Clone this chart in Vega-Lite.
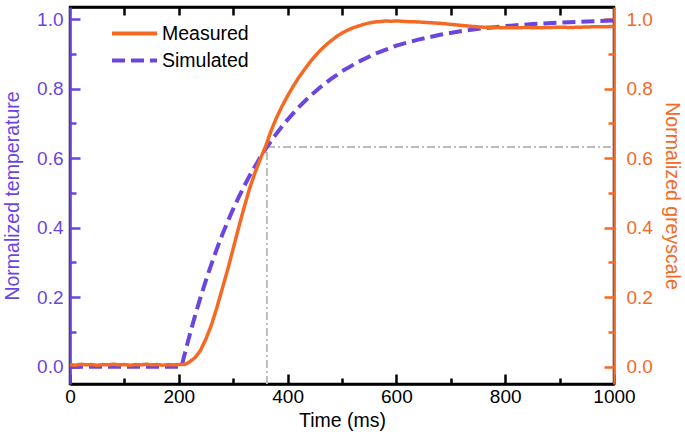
{
  "$schema": "https://vega.github.io/schema/vega-lite/v6.json",
  "width": 544,
  "height": 377,
  "autosize": "none",
  "padding": {"left": 70, "top": 7, "right": 71, "bottom": 57},
  "background": "white",
  "config": {
    "font": "Liberation Sans",
    "view": {"stroke": "black", "strokeWidth": 2.5},
    "axis": {"grid": false, "labelFont": "Liberation Sans", "titleFont": "Liberation Sans", "titleFontWeight": "normal", "labelFontSize": 19, "titleFontSize": 19.5}
  },
  "datasets": {
    "meas": [
      {"t": 0, "v": 0.006, "series": "Measured"}, {"t": 10, "v": 0.004, "series": "Measured"}, {"t": 20, "v": 0.007, "series": "Measured"},
      {"t": 30, "v": 0.005, "series": "Measured"}, {"t": 40, "v": 0.006, "series": "Measured"}, {"t": 50, "v": 0.004, "series": "Measured"},
      {"t": 60, "v": 0.006, "series": "Measured"}, {"t": 70, "v": 0.005, "series": "Measured"}, {"t": 80, "v": 0.007, "series": "Measured"},
      {"t": 90, "v": 0.005, "series": "Measured"}, {"t": 100, "v": 0.006, "series": "Measured"}, {"t": 110, "v": 0.004, "series": "Measured"},
      {"t": 120, "v": 0.006, "series": "Measured"}, {"t": 130, "v": 0.005, "series": "Measured"}, {"t": 140, "v": 0.007, "series": "Measured"},
      {"t": 150, "v": 0.005, "series": "Measured"}, {"t": 160, "v": 0.006, "series": "Measured"}, {"t": 170, "v": 0.004, "series": "Measured"},
      {"t": 180, "v": 0.006, "series": "Measured"}, {"t": 190, "v": 0.005, "series": "Measured"}, {"t": 200, "v": 0.006, "series": "Measured"},
      {"t": 210, "v": 0.006, "series": "Measured"}, {"t": 215, "v": 0.009, "series": "Measured"}, {"t": 220, "v": 0.014, "series": "Measured"},
      {"t": 230, "v": 0.026, "series": "Measured"}, {"t": 240, "v": 0.047, "series": "Measured"}, {"t": 250, "v": 0.08, "series": "Measured"},
      {"t": 260, "v": 0.12, "series": "Measured"}, {"t": 270, "v": 0.17, "series": "Measured"}, {"t": 280, "v": 0.225, "series": "Measured"},
      {"t": 290, "v": 0.28, "series": "Measured"}, {"t": 300, "v": 0.34, "series": "Measured"}, {"t": 310, "v": 0.4, "series": "Measured"},
      {"t": 320, "v": 0.458, "series": "Measured"}, {"t": 330, "v": 0.512, "series": "Measured"}, {"t": 340, "v": 0.558, "series": "Measured"},
      {"t": 350, "v": 0.598, "series": "Measured"}, {"t": 360, "v": 0.636, "series": "Measured"}, {"t": 370, "v": 0.68, "series": "Measured"},
      {"t": 380, "v": 0.718, "series": "Measured"}, {"t": 390, "v": 0.75, "series": "Measured"}, {"t": 400, "v": 0.779, "series": "Measured"},
      {"t": 410, "v": 0.806, "series": "Measured"}, {"t": 420, "v": 0.831, "series": "Measured"}, {"t": 430, "v": 0.853, "series": "Measured"},
      {"t": 440, "v": 0.874, "series": "Measured"}, {"t": 450, "v": 0.893, "series": "Measured"}, {"t": 460, "v": 0.91, "series": "Measured"},
      {"t": 470, "v": 0.925, "series": "Measured"}, {"t": 480, "v": 0.938, "series": "Measured"}, {"t": 490, "v": 0.95, "series": "Measured"},
      {"t": 500, "v": 0.96, "series": "Measured"}, {"t": 510, "v": 0.968, "series": "Measured"}, {"t": 520, "v": 0.975, "series": "Measured"},
      {"t": 530, "v": 0.98, "series": "Measured"}, {"t": 540, "v": 0.985, "series": "Measured"}, {"t": 550, "v": 0.989, "series": "Measured"},
      {"t": 560, "v": 0.992, "series": "Measured"}, {"t": 570, "v": 0.993, "series": "Measured"}, {"t": 580, "v": 0.995, "series": "Measured"},
      {"t": 590, "v": 0.994, "series": "Measured"}, {"t": 600, "v": 0.995, "series": "Measured"}, {"t": 620, "v": 0.993, "series": "Measured"},
      {"t": 640, "v": 0.992, "series": "Measured"}, {"t": 660, "v": 0.99, "series": "Measured"}, {"t": 680, "v": 0.988, "series": "Measured"},
      {"t": 700, "v": 0.985, "series": "Measured"}, {"t": 720, "v": 0.982, "series": "Measured"}, {"t": 740, "v": 0.979, "series": "Measured"},
      {"t": 760, "v": 0.977, "series": "Measured"}, {"t": 780, "v": 0.976, "series": "Measured"}, {"t": 800, "v": 0.975, "series": "Measured"},
      {"t": 820, "v": 0.975, "series": "Measured"}, {"t": 840, "v": 0.976, "series": "Measured"}, {"t": 860, "v": 0.975, "series": "Measured"},
      {"t": 880, "v": 0.976, "series": "Measured"}, {"t": 900, "v": 0.977, "series": "Measured"}, {"t": 920, "v": 0.976, "series": "Measured"},
      {"t": 940, "v": 0.977, "series": "Measured"}, {"t": 960, "v": 0.978, "series": "Measured"}, {"t": 980, "v": 0.978, "series": "Measured"},
      {"t": 1000, "v": 0.979, "series": "Measured"}
    ],
    "sim": [
      {"t": 0, "v": 0, "series": "Simulated"}, {"t": 100, "v": 0, "series": "Simulated"}, {"t": 205, "v": 0, "series": "Simulated"},
      {"t": 210, "v": 0.031, "series": "Simulated"}, {"t": 220, "v": 0.091, "series": "Simulated"}, {"t": 230, "v": 0.147, "series": "Simulated"},
      {"t": 240, "v": 0.2, "series": "Simulated"}, {"t": 250, "v": 0.249, "series": "Simulated"}, {"t": 260, "v": 0.295, "series": "Simulated"},
      {"t": 270, "v": 0.339, "series": "Simulated"}, {"t": 280, "v": 0.38, "series": "Simulated"}, {"t": 290, "v": 0.418, "series": "Simulated"},
      {"t": 300, "v": 0.454, "series": "Simulated"}, {"t": 310, "v": 0.487, "series": "Simulated"}, {"t": 320, "v": 0.519, "series": "Simulated"},
      {"t": 330, "v": 0.549, "series": "Simulated"}, {"t": 340, "v": 0.576, "series": "Simulated"}, {"t": 350, "v": 0.603, "series": "Simulated"},
      {"t": 362, "v": 0.632, "series": "Simulated"}, {"t": 375, "v": 0.661, "series": "Simulated"}, {"t": 390, "v": 0.692, "series": "Simulated"},
      {"t": 400, "v": 0.711, "series": "Simulated"}, {"t": 420, "v": 0.746, "series": "Simulated"}, {"t": 440, "v": 0.777, "series": "Simulated"},
      {"t": 460, "v": 0.804, "series": "Simulated"}, {"t": 480, "v": 0.828, "series": "Simulated"}, {"t": 500, "v": 0.85, "series": "Simulated"},
      {"t": 530, "v": 0.877, "series": "Simulated"}, {"t": 560, "v": 0.9, "series": "Simulated"}, {"t": 600, "v": 0.924, "series": "Simulated"},
      {"t": 640, "v": 0.941, "series": "Simulated"}, {"t": 680, "v": 0.955, "series": "Simulated"}, {"t": 720, "v": 0.966, "series": "Simulated"},
      {"t": 760, "v": 0.974, "series": "Simulated"}, {"t": 800, "v": 0.98, "series": "Simulated"}, {"t": 850, "v": 0.986, "series": "Simulated"},
      {"t": 900, "v": 0.99, "series": "Simulated"}, {"t": 950, "v": 0.993, "series": "Simulated"}, {"t": 1000, "v": 0.996, "series": "Simulated"}
    ],
    "vref": [{"x": 362, "y": -0.05, "y2": 0.632}],
    "href": [{"x": 362, "x2": 1000, "y": 0.632}]
  },
  "resolve": {"scale": {"y": "independent"}, "axis": {"x": "independent", "y": "independent"}},
  "layer": [
    {
      "data": {"name": "vref"},
      "mark": {"type": "rule", "color": "#BDBDBD", "strokeWidth": 2, "strokeDash": [8, 3, 2, 3]},
      "encoding": {
        "x": {"field": "x", "type": "quantitative", "scale": {"domain": [0, 1000], "nice": false},
          "axis": {"orient": "bottom", "title": "Time (ms)", "values": [0, 200, 400, 600, 800, 1000], "format": "d",
            "labelColor": "black", "titleColor": "black", "domainColor": "black", "domainWidth": 2.5,
            "tickColor": "black", "tickWidth": 2.5, "tickSize": -10, "labelPadding": 13, "titlePadding": 5, "labelFlush": false}},
        "y": {"field": "y", "type": "quantitative", "scale": {"domain": [-0.05, 1.035], "nice": false, "zero": false},
          "axis": {"orient": "left", "title": "Normalized temperature", "values": [0, 0.2, 0.4, 0.6, 0.8, 1.0], "format": ".1f",
            "labelColor": "#6B45E0", "titleColor": "#6B45E0", "domainColor": "#6B45E0", "domainWidth": 2.5,
            "tickColor": "#6B45E0", "tickWidth": 2.5, "tickSize": -10, "labelPadding": 17, "titlePadding": 14, "labelFlush": false}},
        "y2": {"field": "y2"}
      }
    },
    {
      "data": {"name": "href"},
      "mark": {"type": "rule", "color": "#BDBDBD", "strokeWidth": 2, "strokeDash": [8, 3, 2, 3]},
      "encoding": {
        "x": {"field": "x", "type": "quantitative", "scale": {"domain": [0, 1000], "nice": false}, "axis": null},
        "x2": {"field": "x2"},
        "y": {"field": "y", "type": "quantitative", "scale": {"domain": [-0.05, 1.035], "nice": false, "zero": false},
          "axis": {"orient": "right", "title": null, "labels": false, "domain": false, "values": [0.1, 0.3, 0.5, 0.7, 0.9],
            "tickColor": "#F46A25", "tickWidth": 2.5, "tickSize": 6, "offset": -6}}
      }
    },
    {
      "data": {"name": "sim"},
      "mark": {"type": "line", "strokeWidth": 4, "strokeCap": "butt"},
      "encoding": {
        "x": {"field": "t", "type": "quantitative", "scale": {"domain": [0, 1000], "nice": false},
          "axis": {"orient": "bottom", "title": null, "labels": false, "domain": false, "values": [100, 300, 500, 700, 900],
            "tickColor": "black", "tickWidth": 2.5, "tickSize": 6, "offset": -6}},
        "y": {"field": "v", "type": "quantitative", "scale": {"domain": [-0.05, 1.035], "nice": false, "zero": false},
          "axis": {"orient": "left", "title": null, "labels": false, "domain": false, "values": [0.1, 0.3, 0.5, 0.7, 0.9],
            "tickColor": "#6B45E0", "tickWidth": 2.5, "tickSize": 6, "offset": -6}},
        "color": {"field": "series", "type": "nominal",
          "scale": {"domain": ["Measured", "Simulated"], "range": ["#F46A25", "#6B45E0"]},
          "legend": {"orient": "none", "legendX": 40, "legendY": 13, "title": null, "symbolType": "stroke", "symbolSize": 2025,
            "symbolStrokeWidth": 4, "labelFontSize": 19.5, "labelFont": "Liberation Sans", "labelOffset": 3,
            "clipHeight": 27, "rowPadding": 0, "padding": 0}},
        "strokeDash": {"field": "series", "type": "nominal",
          "scale": {"domain": ["Measured", "Simulated"], "range": [[1, 0], [13, 6]]}}
      }
    },
    {
      "data": {"name": "meas"},
      "mark": {"type": "line", "strokeWidth": 3.5},
      "encoding": {
        "x": {"field": "t", "type": "quantitative", "scale": {"domain": [0, 1000], "nice": false},
          "axis": {"orient": "top", "title": null, "labels": false, "domain": true, "domainColor": "black", "domainWidth": 2.5,
            "values": [100, 200, 300, 400, 500, 600, 700, 800, 900],
            "tickColor": "black", "tickWidth": 2.5, "tickSize": -8}},
        "y": {"field": "v", "type": "quantitative", "scale": {"domain": [-0.05, 1.035], "nice": false, "zero": false},
          "axis": {"orient": "right", "title": "Normalized greyscale", "values": [0, 0.2, 0.4, 0.6, 0.8, 1.0], "format": ".1f",
            "labelColor": "#F46A25", "titleColor": "#F46A25", "domainColor": "#F46A25", "domainWidth": 2.5,
            "tickColor": "#F46A25", "tickWidth": 2.5, "tickSize": -10, "labelPadding": 22, "titlePadding": 9, "labelFlush": false}},
        "color": {"field": "series", "type": "nominal"},
        "strokeDash": {"field": "series", "type": "nominal"}
      }
    }
  ]
}
